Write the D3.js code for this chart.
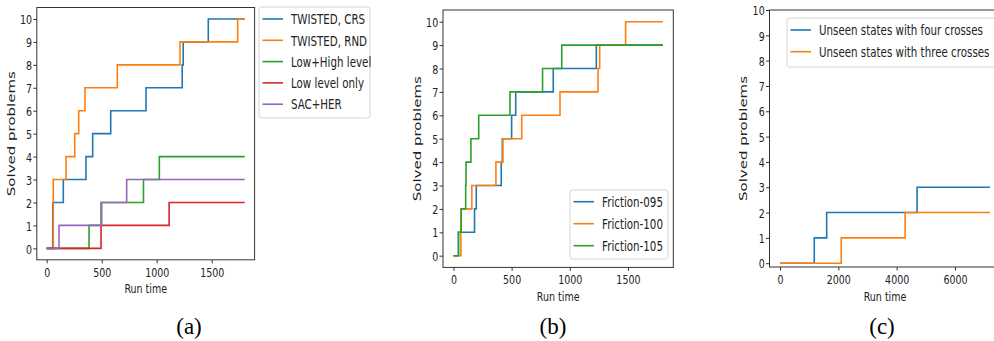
<!DOCTYPE html>
<html>
<head>
<meta charset="utf-8">
<script src="https://cdn.jsdelivr.net/npm/d3@7"></script>
<style>
  body { margin: 0; background: #fff; }
  svg { display: block; }
  text { font-family: 'DejaVu Sans', sans-serif; fill: #222; }
</style>
</head>
<body>
<div id="chart"></div>
<script>
// ---- panel (a): solved problems over run time ----
var crsTime = [0, 55, 151, 357, 418, 582, 903, 1232, 1241, 1469, 1800];
var crsSolved = [0, 2, 3, 4, 5, 6, 7, 8, 9, 10, 10];
var rndTime = [0, 60, 176, 255, 291, 348, 642, 1212, 1736, 1800];
var rndSolved = [0, 3, 4, 5, 6, 7, 8, 9, 10, 10];
var lowHighTime = [0, 385, 494, 880, 1024, 1800];
var lowHighSolved = [0, 1, 2, 3, 4, 4];
var lowOnlyTime = [0, 494, 1113, 1800];
var lowOnlySolved = [0, 1, 2, 2];
var sacHerTime = [0, 112, 500, 727, 1800];
var sacHerSolved = [0, 1, 2, 3, 3];

// ---- panel (b): friction ----
var f095Time = [0, 43, 181, 196, 411, 420, 500, 535, 858, 1228, 1800];
var f095Solved = [0, 1, 2, 3, 4, 5, 6, 7, 8, 9, 9];
var f100Time = [0, 64, 158, 365, 425, 587, 916, 1243, 1257, 1480, 1800];
var f100Solved = [0, 2, 3, 4, 5, 6, 7, 8, 9, 10, 10];
var f105Time = [0, 43, 66, 105, 108, 150, 217, 486, 766, 931, 1800];
var f105Solved = [0, 1, 2, 3, 4, 5, 6, 7, 8, 9, 9];

// ---- panel (c): unseen states ----
var fourTime = [0, 1175, 1600, 4700, 7200];
var fourSolved = [0, 1, 2, 3, 3];
var threeTime = [0, 2100, 4290, 7200];
var threeSolved = [0, 1, 2, 2];

var ticks1800 = [0, 500, 1000, 1500];
var ticks7200 = [0, 2000, 4000, 6000];
var yTicks = [0, 1, 2, 3, 4, 5, 6, 7, 8, 9, 10];

var colors = d3.schemeCategory10;
var sx = 0.73; // the figure is squeezed horizontally
var fmt = d3.format('d');

var svg = d3.select('#chart').append('svg')
  .attr('width', 994)
  .attr('height', 341);

function toPoints(t, v) {
  return t.map(function (d, i) { return { t: d, v: v[i] }; });
}

var panels = [
  {
    left: 36.8, right: 254.6, top: 7.5, bottom: 259.8,
    xDomain: [-90, 1890], yDomain: [-0.5, 10.5], xTicks: ticks1800, yLabelX: 12.5,
    series: [
      { name: 'TWISTED, CRS', t: crsTime, v: crsSolved },
      { name: 'TWISTED, RND', t: rndTime, v: rndSolved },
      { name: 'Low+High level', t: lowHighTime, v: lowHighSolved },
      { name: 'Low level only', t: lowOnlyTime, v: lowOnlySolved },
      { name: 'SAC+HER', t: sacHerTime, v: sacHerSolved }
    ],
    legend: { x: 259, y: 7, w: 111, h: 111, first: 19, step: 21.3, fs: 14.5, lsx: 0.71 },
    caption: '(a)', capX: 189
  },
  {
    left: 443, right: 673.3, top: 10, bottom: 267.4,
    xDomain: [-90, 1890], yDomain: [-0.5, 10.5], xTicks: ticks1800, yLabelX: 418,
    series: [
      { name: 'Friction-095', t: f095Time, v: f095Solved },
      { name: 'Friction-100', t: f100Time, v: f100Solved },
      { name: 'Friction-105', t: f105Time, v: f105Solved }
    ],
    legend: { x: 570, y: 190, w: 98, h: 69, first: 201.7, step: 22, fs: 14.5, lsx: 0.71 },
    caption: '(b)', capX: 553
  },
  {
    left: 769.5, right: 1000.5, top: 10, bottom: 267,
    xDomain: [-360, 7560], yDomain: [-0.15, 10], xTicks: ticks7200, yLabelX: 744,
    series: [
      { name: 'Unseen states with four crosses', t: fourTime, v: fourSolved },
      { name: 'Unseen states with three crosses', t: threeTime, v: threeSolved }
    ],
    legend: { x: 787, y: 18, w: 215, h: 49, first: 30, step: 21.7, fs: 14.5, lsx: 0.71 },
    caption: '(c)', capX: 882
  }
];

panels.forEach(function (p) {
  var x = d3.scaleLinear().domain(p.xDomain).range([p.left, p.right]);
  var y = d3.scaleLinear().domain(p.yDomain).range([p.bottom, p.top]);
  var g = svg.append('g');

  // step lines
  var line = d3.line()
    .x(function (d) { return x(d.t); })
    .y(function (d) { return y(d.v); })
    .curve(d3.curveStepAfter);

  g.selectAll('.series')
    .data(p.series).enter()
    .append('path')
    .attr('class', 'series')
    .attr('d', function (d) { return line(toPoints(d.t, d.v)); })
    .attr('fill', 'none')
    .attr('stroke', function (d, i) { return colors[i]; })
    .attr('stroke-width', 1.6);

  // axes
  var xAxis = g.append('g')
    .attr('transform', 'translate(0,' + p.bottom + ')')
    .call(d3.axisBottom(x).tickValues(p.xTicks).tickFormat(fmt).tickSize(3.5).tickSizeOuter(0));
  xAxis.select('.domain').remove();
  xAxis.selectAll('text')
    .attr('y', 0).attr('dy', 0)
    .attr('transform', 'translate(0,17) scale(' + sx + ',1)')
    .style('font-size', '13px');

  var yAxis = g.append('g')
    .attr('transform', 'translate(' + p.left + ',0)')
    .call(d3.axisLeft(y).tickValues(yTicks).tickFormat(fmt).tickSize(3.5).tickSizeOuter(0));
  yAxis.select('.domain').remove();
  yAxis.selectAll('text')
    .attr('x', 0).attr('dy', '0.36em')
    .attr('transform', 'translate(-4.8,0) scale(' + sx + ',1)')
    .style('font-size', '13px');
  g.selectAll('.tick line').attr('stroke', '#333');

  // frame
  g.append('rect')
    .attr('x', p.left).attr('y', p.top)
    .attr('width', p.right - p.left).attr('height', p.bottom - p.top)
    .attr('fill', 'none').attr('stroke', '#333').attr('stroke-width', 1);

  // axis labels
  g.append('text')
    .attr('transform', 'translate(' + ((p.left + p.right) / 2) + ',' + (p.bottom + 33.5) + ') scale(' + sx + ',1)')
    .attr('text-anchor', 'middle')
    .style('font-size', '13px')
    .text('Run time');

  g.append('text')
    .attr('transform', 'translate(' + p.yLabelX + ',' + ((p.top + p.bottom) / 2) + ') scale(' + sx + ',1) rotate(-90)')
    .attr('text-anchor', 'middle')
    .attr('dy', '0.26em')
    .style('font-size', '15px')
    .text('Solved problems');

  // legend
  var lg = p.legend;
  var leg = g.append('g');
  leg.append('rect')
    .attr('x', lg.x).attr('y', lg.y)
    .attr('width', lg.w).attr('height', lg.h)
    .attr('rx', 2.5)
    .attr('fill', '#fff').attr('fill-opacity', 0.8)
    .attr('stroke', '#d4d4d4');
  var items = leg.selectAll('.item')
    .data(p.series).enter()
    .append('g')
    .attr('class', 'item')
    .attr('transform', function (d, i) { return 'translate(' + lg.x + ',' + (lg.first + i * lg.step) + ')'; });
  items.append('line')
    .attr('x1', 3.5).attr('x2', 24)
    .attr('stroke', function (d, i) { return colors[i]; })
    .attr('stroke-width', 1.6);
  items.append('text')
    .attr('transform', 'translate(32,0) scale(' + lg.lsx + ',1)')
    .attr('dy', '0.36em')
    .style('font-size', lg.fs + 'px')
    .text(function (d) { return d.name; });

  // caption
  svg.append('text')
    .attr('x', p.capX).attr('y', 334)
    .attr('text-anchor', 'middle')
    .style('font-family', "'Liberation Serif', serif")
    .style('font-size', '23px')
    .style('fill', '#000')
    .text(p.caption);
});
</script>
</body>
</html>
